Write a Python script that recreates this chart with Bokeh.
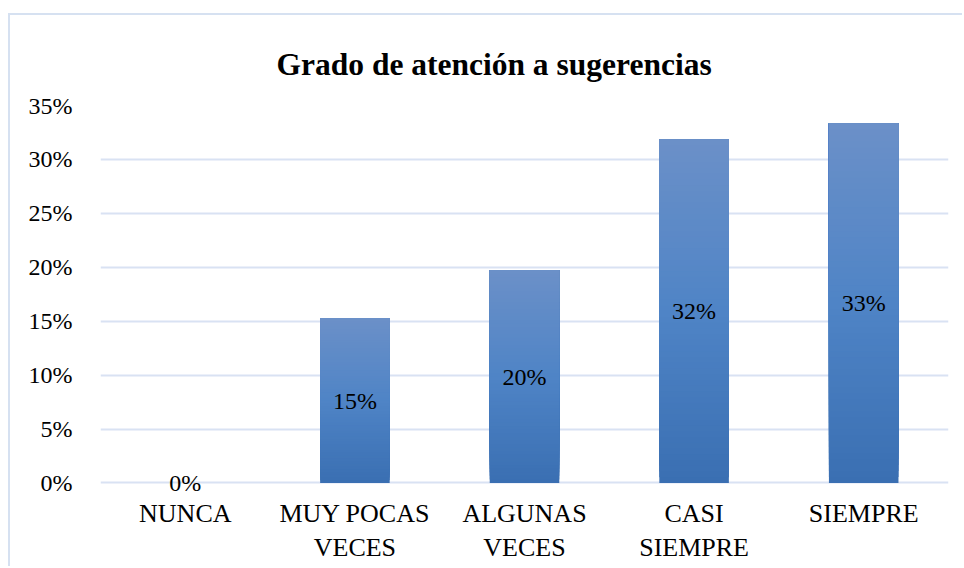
from bokeh.plotting import figure
from bokeh.models import ColumnDataSource, FactorRange, Range1d, FixedTicker, PrintfTickFormatter, LabelSet
from bokeh.embed import file_html
from bokeh.resources import INLINE

categories = ["NUNCA", "MUY POCAS\nVECES", "ALGUNAS\nVECES", "CASI\nSIEMPRE", "SIEMPRE"]
percentages = [0.0, 15.28, 19.72, 31.85, 33.33]
y_ticks = [0, 5, 10, 15, 20, 25, 30, 35]
title_text = "Grado de atención a sugerencias"

FONT = "Liberation Serif"
GRID = "#D9E2F3"

# y range extends slightly below 0 so the "0%" label on the zero line is not clipped
p = figure(x_range=FactorRange(*categories, range_padding=0),
           y_range=Range1d(-2, 35),
           width=954, height=553, output_backend="svg", toolbar_location=None,
           min_border_left=90, min_border_right=16, min_border_top=90, min_border_bottom=64,
           styles={"margin-left": "8px", "margin-top": "13px",
                   "border-left": "2px solid #D6E1F1", "border-top": "2px solid #D6E1F1"})

p.title.text = title_text
p.title.text_font = FONT
p.title.text_font_size = "31.5px"
p.title.text_font_style = "bold"
p.title.text_color = "#000000"
p.title.align = "left"
p.title.offset = 176
p.title.standoff = 47

p.outline_line_color = None
p.xgrid.grid_line_color = None
p.ygrid.grid_line_color = GRID
p.ygrid.grid_line_width = 2
p.yaxis.ticker = FixedTicker(ticks=y_ticks)
p.yaxis.formatter = PrintfTickFormatter(format="%d%%")
for ax in (p.xaxis, p.yaxis):
    ax.axis_line_color = None
    ax.major_tick_line_color = None
    ax.minor_tick_line_color = None
    ax.major_label_text_font = FONT
    ax.major_label_text_color = "#000000"
p.yaxis.major_label_text_font_size = "24px"
p.xaxis.major_label_text_font_size = "26px"
p.yaxis.major_label_standoff = 22
p.xaxis.major_label_standoff = -12

# gradient bars: each bar drawn as overlapping slices from dark (bottom) to light (top)
N = 60
stops = [(0.0, (0x3A, 0x6F, 0xB2)), (0.5, (0x4F, 0x84, 0xC6)), (1.0, (0x6B, 0x90, 0xC8))]
def col(t):
    for (t0, c0), (t1, c1) in zip(stops[:-1], stops[1:]):
        if t <= t1:
            f = (t - t0) / (t1 - t0)
            return "#%02x%02x%02x" % tuple(int(round(a + (b - a) * f)) for a, b in zip(c0, c1))
    return "#%02x%02x%02x" % stops[-1][1]

xs, bots, tops, cols = [], [], [], []
for c, v in zip(categories, percentages):
    if v <= 0:
        continue
    for k in range(N):
        xs.append(c)
        bots.append(v * k / N)
        tops.append(v)
        cols.append(col((k + 0.5) / N))
p.vbar(x=xs, bottom=bots, top=tops, width=0.41, fill_color=cols, line_color=None)

lab = ColumnDataSource(dict(x=categories, y=[v / 2 for v in percentages],
                            t=["%d%%" % round(v) for v in percentages]))
p.add_layout(LabelSet(x="x", y="y", text="t", source=lab, text_align="center",
                      text_baseline="middle", text_font=FONT, text_font_size="24px",
                      text_color="#000000"))

open("out.html", "w").write(file_html(p, INLINE))
